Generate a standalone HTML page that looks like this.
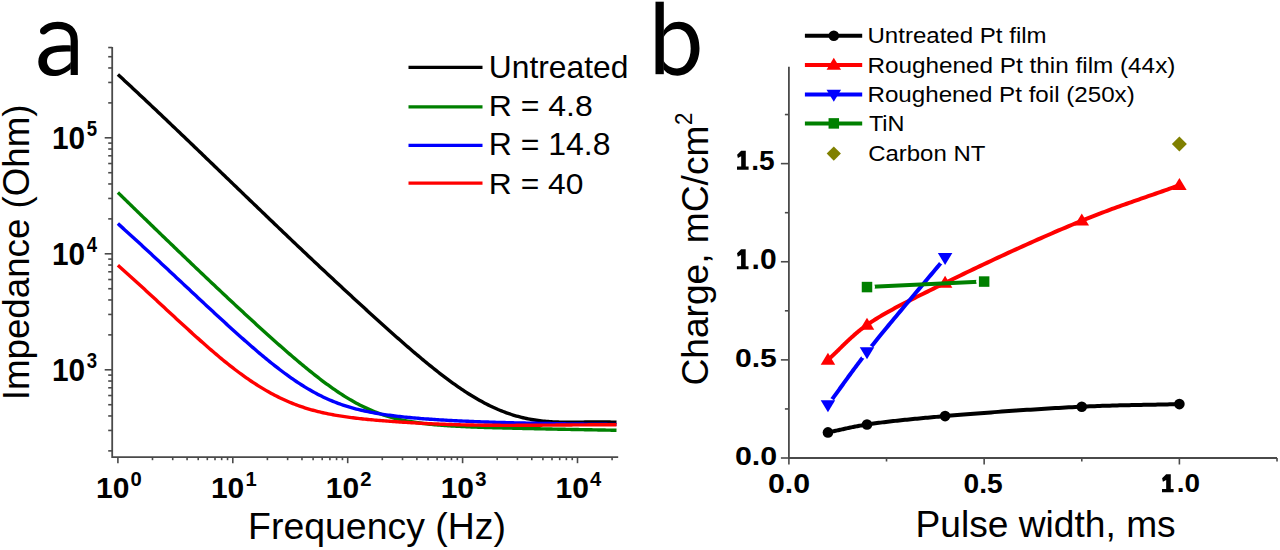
<!DOCTYPE html>
<html><head><meta charset="utf-8"><style>
html,body{margin:0;padding:0;background:#fff;width:1280px;height:550px;overflow:hidden}
svg{display:block;font-family:"Liberation Sans",sans-serif}
</style></head><body>
<svg width="1280" height="550" viewBox="0 0 1280 550">
<defs><mask id="m_black" maskUnits="userSpaceOnUse" x="0" y="0" width="1280" height="550"><rect width="1280" height="550" fill="#fff"/><circle cx="827.95" cy="432.41" r="0" fill="#000"/><circle cx="867.00" cy="424.52" r="0" fill="#000"/><circle cx="945.10" cy="416.10" r="0" fill="#000"/><circle cx="1081.78" cy="406.70" r="0" fill="#000"/><circle cx="1179.40" cy="404.09" r="0" fill="#000"/></mask><mask id="m_red" maskUnits="userSpaceOnUse" x="0" y="0" width="1280" height="550"><rect width="1280" height="550" fill="#fff"/><circle cx="827.95" cy="359.88" r="0" fill="#000"/><circle cx="867.00" cy="324.94" r="0" fill="#000"/><circle cx="945.10" cy="282.94" r="0" fill="#000"/><circle cx="1081.78" cy="220.73" r="0" fill="#000"/><circle cx="1179.40" cy="185.21" r="0" fill="#000"/></mask><mask id="m_blue" maskUnits="userSpaceOnUse" x="0" y="0" width="1280" height="550"><rect width="1280" height="550" fill="#fff"/><circle cx="827.95" cy="405.01" r="7.3" fill="#000"/><circle cx="867.00" cy="352.02" r="7.3" fill="#000"/><circle cx="945.10" cy="257.82" r="7.3" fill="#000"/></mask><mask id="m_green" maskUnits="userSpaceOnUse" x="0" y="0" width="1280" height="550"><rect width="1280" height="550" fill="#fff"/><circle cx="867.00" cy="287.07" r="8" fill="#000"/><circle cx="984.15" cy="281.57" r="8" fill="#000"/></mask></defs>
<path d="M112.2,46.9 V457.2 H618.2" fill="none" stroke="#4a4a4a" stroke-width="1.8"/>
<line x1="108.20" y1="450.88" x2="112.2" y2="450.88" stroke="#4a4a4a" stroke-width="1.6"/>
<line x1="108.20" y1="430.45" x2="112.2" y2="430.45" stroke="#4a4a4a" stroke-width="1.6"/>
<line x1="108.20" y1="415.96" x2="112.2" y2="415.96" stroke="#4a4a4a" stroke-width="1.6"/>
<line x1="108.20" y1="404.72" x2="112.2" y2="404.72" stroke="#4a4a4a" stroke-width="1.6"/>
<line x1="108.20" y1="395.53" x2="112.2" y2="395.53" stroke="#4a4a4a" stroke-width="1.6"/>
<line x1="108.20" y1="387.77" x2="112.2" y2="387.77" stroke="#4a4a4a" stroke-width="1.6"/>
<line x1="108.20" y1="381.04" x2="112.2" y2="381.04" stroke="#4a4a4a" stroke-width="1.6"/>
<line x1="108.20" y1="375.11" x2="112.2" y2="375.11" stroke="#4a4a4a" stroke-width="1.6"/>
<line x1="104.70" y1="369.80" x2="112.2" y2="369.80" stroke="#4a4a4a" stroke-width="1.6"/>
<line x1="108.20" y1="334.88" x2="112.2" y2="334.88" stroke="#4a4a4a" stroke-width="1.6"/>
<line x1="108.20" y1="314.45" x2="112.2" y2="314.45" stroke="#4a4a4a" stroke-width="1.6"/>
<line x1="108.20" y1="299.96" x2="112.2" y2="299.96" stroke="#4a4a4a" stroke-width="1.6"/>
<line x1="108.20" y1="288.72" x2="112.2" y2="288.72" stroke="#4a4a4a" stroke-width="1.6"/>
<line x1="108.20" y1="279.53" x2="112.2" y2="279.53" stroke="#4a4a4a" stroke-width="1.6"/>
<line x1="108.20" y1="271.77" x2="112.2" y2="271.77" stroke="#4a4a4a" stroke-width="1.6"/>
<line x1="108.20" y1="265.04" x2="112.2" y2="265.04" stroke="#4a4a4a" stroke-width="1.6"/>
<line x1="108.20" y1="259.11" x2="112.2" y2="259.11" stroke="#4a4a4a" stroke-width="1.6"/>
<line x1="104.70" y1="253.80" x2="112.2" y2="253.80" stroke="#4a4a4a" stroke-width="1.6"/>
<line x1="108.20" y1="218.88" x2="112.2" y2="218.88" stroke="#4a4a4a" stroke-width="1.6"/>
<line x1="108.20" y1="198.45" x2="112.2" y2="198.45" stroke="#4a4a4a" stroke-width="1.6"/>
<line x1="108.20" y1="183.96" x2="112.2" y2="183.96" stroke="#4a4a4a" stroke-width="1.6"/>
<line x1="108.20" y1="172.72" x2="112.2" y2="172.72" stroke="#4a4a4a" stroke-width="1.6"/>
<line x1="108.20" y1="163.53" x2="112.2" y2="163.53" stroke="#4a4a4a" stroke-width="1.6"/>
<line x1="108.20" y1="155.77" x2="112.2" y2="155.77" stroke="#4a4a4a" stroke-width="1.6"/>
<line x1="108.20" y1="149.04" x2="112.2" y2="149.04" stroke="#4a4a4a" stroke-width="1.6"/>
<line x1="108.20" y1="143.11" x2="112.2" y2="143.11" stroke="#4a4a4a" stroke-width="1.6"/>
<line x1="104.70" y1="137.80" x2="112.2" y2="137.80" stroke="#4a4a4a" stroke-width="1.6"/>
<line x1="108.20" y1="102.88" x2="112.2" y2="102.88" stroke="#4a4a4a" stroke-width="1.6"/>
<line x1="108.20" y1="82.45" x2="112.2" y2="82.45" stroke="#4a4a4a" stroke-width="1.6"/>
<line x1="108.20" y1="67.96" x2="112.2" y2="67.96" stroke="#4a4a4a" stroke-width="1.6"/>
<line x1="108.20" y1="56.72" x2="112.2" y2="56.72" stroke="#4a4a4a" stroke-width="1.6"/>
<line x1="108.20" y1="47.53" x2="112.2" y2="47.53" stroke="#4a4a4a" stroke-width="1.6"/>
<line x1="117.90" y1="457.2" x2="117.90" y2="463.20" stroke="#4a4a4a" stroke-width="1.6"/>
<line x1="152.49" y1="457.2" x2="152.49" y2="460.20" stroke="#4a4a4a" stroke-width="1.6"/>
<line x1="172.72" y1="457.2" x2="172.72" y2="460.20" stroke="#4a4a4a" stroke-width="1.6"/>
<line x1="187.08" y1="457.2" x2="187.08" y2="460.20" stroke="#4a4a4a" stroke-width="1.6"/>
<line x1="198.21" y1="457.2" x2="198.21" y2="460.20" stroke="#4a4a4a" stroke-width="1.6"/>
<line x1="207.31" y1="457.2" x2="207.31" y2="460.20" stroke="#4a4a4a" stroke-width="1.6"/>
<line x1="215.00" y1="457.2" x2="215.00" y2="460.20" stroke="#4a4a4a" stroke-width="1.6"/>
<line x1="221.67" y1="457.2" x2="221.67" y2="460.20" stroke="#4a4a4a" stroke-width="1.6"/>
<line x1="227.54" y1="457.2" x2="227.54" y2="460.20" stroke="#4a4a4a" stroke-width="1.6"/>
<line x1="232.80" y1="457.2" x2="232.80" y2="463.20" stroke="#4a4a4a" stroke-width="1.6"/>
<line x1="267.39" y1="457.2" x2="267.39" y2="460.20" stroke="#4a4a4a" stroke-width="1.6"/>
<line x1="287.62" y1="457.2" x2="287.62" y2="460.20" stroke="#4a4a4a" stroke-width="1.6"/>
<line x1="301.98" y1="457.2" x2="301.98" y2="460.20" stroke="#4a4a4a" stroke-width="1.6"/>
<line x1="313.11" y1="457.2" x2="313.11" y2="460.20" stroke="#4a4a4a" stroke-width="1.6"/>
<line x1="322.21" y1="457.2" x2="322.21" y2="460.20" stroke="#4a4a4a" stroke-width="1.6"/>
<line x1="329.90" y1="457.2" x2="329.90" y2="460.20" stroke="#4a4a4a" stroke-width="1.6"/>
<line x1="336.57" y1="457.2" x2="336.57" y2="460.20" stroke="#4a4a4a" stroke-width="1.6"/>
<line x1="342.44" y1="457.2" x2="342.44" y2="460.20" stroke="#4a4a4a" stroke-width="1.6"/>
<line x1="347.70" y1="457.2" x2="347.70" y2="463.20" stroke="#4a4a4a" stroke-width="1.6"/>
<line x1="382.29" y1="457.2" x2="382.29" y2="460.20" stroke="#4a4a4a" stroke-width="1.6"/>
<line x1="402.52" y1="457.2" x2="402.52" y2="460.20" stroke="#4a4a4a" stroke-width="1.6"/>
<line x1="416.88" y1="457.2" x2="416.88" y2="460.20" stroke="#4a4a4a" stroke-width="1.6"/>
<line x1="428.01" y1="457.2" x2="428.01" y2="460.20" stroke="#4a4a4a" stroke-width="1.6"/>
<line x1="437.11" y1="457.2" x2="437.11" y2="460.20" stroke="#4a4a4a" stroke-width="1.6"/>
<line x1="444.80" y1="457.2" x2="444.80" y2="460.20" stroke="#4a4a4a" stroke-width="1.6"/>
<line x1="451.47" y1="457.2" x2="451.47" y2="460.20" stroke="#4a4a4a" stroke-width="1.6"/>
<line x1="457.34" y1="457.2" x2="457.34" y2="460.20" stroke="#4a4a4a" stroke-width="1.6"/>
<line x1="462.60" y1="457.2" x2="462.60" y2="463.20" stroke="#4a4a4a" stroke-width="1.6"/>
<line x1="497.19" y1="457.2" x2="497.19" y2="460.20" stroke="#4a4a4a" stroke-width="1.6"/>
<line x1="517.42" y1="457.2" x2="517.42" y2="460.20" stroke="#4a4a4a" stroke-width="1.6"/>
<line x1="531.78" y1="457.2" x2="531.78" y2="460.20" stroke="#4a4a4a" stroke-width="1.6"/>
<line x1="542.91" y1="457.2" x2="542.91" y2="460.20" stroke="#4a4a4a" stroke-width="1.6"/>
<line x1="552.01" y1="457.2" x2="552.01" y2="460.20" stroke="#4a4a4a" stroke-width="1.6"/>
<line x1="559.70" y1="457.2" x2="559.70" y2="460.20" stroke="#4a4a4a" stroke-width="1.6"/>
<line x1="566.37" y1="457.2" x2="566.37" y2="460.20" stroke="#4a4a4a" stroke-width="1.6"/>
<line x1="572.24" y1="457.2" x2="572.24" y2="460.20" stroke="#4a4a4a" stroke-width="1.6"/>
<line x1="577.50" y1="457.2" x2="577.50" y2="463.20" stroke="#4a4a4a" stroke-width="1.6"/>
<line x1="612.09" y1="457.2" x2="612.09" y2="460.20" stroke="#4a4a4a" stroke-width="1.6"/>
<polyline points="117.90,74.47 119.57,76.02 121.24,77.56 122.90,79.10 124.57,80.65 126.24,82.20 127.91,83.75 129.57,85.30 131.24,86.86 132.91,88.41 134.58,89.97 136.24,91.53 137.91,93.09 139.58,94.65 141.25,96.22 142.91,97.78 144.58,99.35 146.25,100.92 147.92,102.49 149.58,104.06 151.25,105.64 152.92,107.21 154.59,108.79 156.25,110.36 157.92,111.94 159.59,113.52 161.26,115.10 162.92,116.69 164.59,118.27 166.26,119.85 167.93,121.44 169.59,123.03 171.26,124.61 172.93,126.20 174.60,127.79 176.26,129.38 177.93,130.98 179.60,132.57 181.27,134.16 182.93,135.76 184.60,137.35 186.27,138.95 187.94,140.55 189.61,142.14 191.27,143.74 192.94,145.34 194.61,146.94 196.28,148.54 197.94,150.14 199.61,151.75 201.28,153.35 202.95,154.95 204.61,156.55 206.28,158.16 207.95,159.76 209.62,161.37 211.28,162.97 212.95,164.58 214.62,166.18 216.29,167.79 217.95,169.39 219.62,171.00 221.29,172.61 222.96,174.21 224.62,175.82 226.29,177.43 227.96,179.03 229.63,180.64 231.29,182.25 232.96,183.86 234.63,185.46 236.30,187.07 237.96,188.68 239.63,190.28 241.30,191.89 242.97,193.50 244.63,195.10 246.30,196.71 247.97,198.31 249.64,199.92 251.30,201.53 252.97,203.13 254.64,204.73 256.31,206.34 257.97,207.94 259.64,209.54 261.31,211.15 262.98,212.75 264.65,214.35 266.31,215.95 267.98,217.55 269.65,219.15 271.32,220.75 272.98,222.34 274.65,223.94 276.32,225.54 277.99,227.13 279.65,228.73 281.32,230.32 282.99,231.91 284.66,233.50 286.32,235.09 287.99,236.68 289.66,238.27 291.33,239.86 292.99,241.44 294.66,243.03 296.33,244.61 298.00,246.19 299.66,247.77 301.33,249.35 303.00,250.93 304.67,252.51 306.33,254.08 308.00,255.66 309.67,257.23 311.34,258.80 313.00,260.37 314.67,261.94 316.34,263.51 318.01,265.07 319.67,266.64 321.34,268.20 323.01,269.76 324.68,271.32 326.34,272.88 328.01,274.44 329.68,276.00 331.35,277.55 333.02,279.11 334.68,280.66 336.35,282.21 338.02,283.76 339.69,285.31 341.35,286.86 343.02,288.40 344.69,289.95 346.36,291.49 348.02,293.03 349.69,294.57 351.36,296.11 353.03,297.65 354.69,299.18 356.36,300.72 358.03,302.25 359.70,303.78 361.36,305.31 363.03,306.83 364.70,308.36 366.37,309.88 368.03,311.40 369.70,312.92 371.37,314.44 373.04,315.96 374.70,317.47 376.37,318.98 378.04,320.49 379.71,321.99 381.37,323.50 383.04,325.00 384.71,326.50 386.38,327.99 388.04,329.48 389.71,330.97 391.38,332.46 393.05,333.94 394.71,335.42 396.38,336.90 398.05,338.37 399.72,339.84 401.38,341.30 403.05,342.76 404.72,344.22 406.39,345.67 408.06,347.11 409.72,348.55 411.39,349.99 413.06,351.42 414.73,352.84 416.39,354.26 418.06,355.67 419.73,357.07 421.40,358.47 423.06,359.86 424.73,361.24 426.40,362.61 428.07,363.98 429.73,365.34 431.40,366.69 433.07,368.03 434.74,369.36 436.40,370.68 438.07,371.99 439.74,373.29 441.41,374.58 443.07,375.86 444.74,377.13 446.41,378.39 448.08,379.63 449.74,380.86 451.41,382.08 453.08,383.28 454.75,384.47 456.41,385.65 458.08,386.81 459.75,387.96 461.42,389.09 463.08,390.21 464.75,391.31 466.42,392.39 468.09,393.46 469.75,394.51 471.42,395.54 473.09,396.55 474.76,397.55 476.43,398.53 478.09,399.49 479.76,400.44 481.43,401.36 483.10,402.27 484.76,403.15 486.43,404.02 488.10,404.87 489.77,405.69 491.43,406.50 493.10,407.28 494.77,408.04 496.44,408.78 498.10,409.51 499.77,410.20 501.44,410.88 503.11,411.54 504.77,412.17 506.44,412.78 508.11,413.37 509.78,413.94 511.44,414.49 513.11,415.02 514.78,415.53 516.45,416.01 518.11,416.48 519.78,416.92 521.45,417.35 523.12,417.75 524.78,418.14 526.45,418.50 528.12,418.85 529.79,419.17 531.45,419.48 533.12,419.77 534.79,420.04 536.46,420.29 538.12,420.52 539.79,420.74 541.46,420.94 543.13,421.12 544.79,421.28 546.46,421.42 548.13,421.55 549.80,421.67 551.47,421.77 553.13,421.86 554.80,421.94 556.47,422.01 558.14,422.06 559.80,422.11 561.47,422.14 563.14,422.17 564.81,422.19 566.47,422.20 568.14,422.21 569.81,422.21 571.48,422.21 573.14,422.20 574.81,422.18 576.48,422.17 578.15,422.15 579.81,422.13 581.48,422.11 583.15,422.09 584.82,422.06 586.48,422.04 588.15,422.02 589.82,422.00 591.49,421.98 593.15,421.96 594.82,421.95 596.49,421.94 598.16,421.94 599.82,421.94 601.49,421.94 603.16,421.95 604.83,421.97 606.49,421.99 608.16,422.02 609.83,422.06 611.50,422.11 613.16,422.17 614.83,422.23 616.50,422.30" fill="none" stroke="#000" stroke-width="3.4" stroke-linejoin="round"/>
<polyline points="117.90,192.48 119.57,194.11 121.24,195.74 122.90,197.37 124.57,199.00 126.24,200.62 127.91,202.25 129.57,203.87 131.24,205.50 132.91,207.12 134.58,208.75 136.24,210.37 137.91,211.99 139.58,213.61 141.25,215.23 142.91,216.85 144.58,218.47 146.25,220.09 147.92,221.70 149.58,223.32 151.25,224.93 152.92,226.55 154.59,228.16 156.25,229.77 157.92,231.39 159.59,233.00 161.26,234.61 162.92,236.22 164.59,237.82 166.26,239.43 167.93,241.04 169.59,242.64 171.26,244.25 172.93,245.85 174.60,247.45 176.26,249.06 177.93,250.66 179.60,252.26 181.27,253.85 182.93,255.45 184.60,257.05 186.27,258.64 187.94,260.24 189.61,261.83 191.27,263.42 192.94,265.02 194.61,266.61 196.28,268.20 197.94,269.78 199.61,271.37 201.28,272.96 202.95,274.54 204.61,276.12 206.28,277.70 207.95,279.28 209.62,280.86 211.28,282.44 212.95,284.02 214.62,285.59 216.29,287.17 217.95,288.74 219.62,290.31 221.29,291.88 222.96,293.45 224.62,295.01 226.29,296.58 227.96,298.14 229.63,299.70 231.29,301.26 232.96,302.81 234.63,304.37 236.30,305.92 237.96,307.47 239.63,309.02 241.30,310.57 242.97,312.12 244.63,313.66 246.30,315.20 247.97,316.74 249.64,318.27 251.30,319.80 252.97,321.33 254.64,322.86 256.31,324.39 257.97,325.91 259.64,327.43 261.31,328.94 262.98,330.45 264.65,331.96 266.31,333.47 267.98,334.97 269.65,336.47 271.32,337.96 272.98,339.45 274.65,340.94 276.32,342.42 277.99,343.90 279.65,345.37 281.32,346.84 282.99,348.30 284.66,349.76 286.32,351.21 287.99,352.66 289.66,354.10 291.33,355.54 292.99,356.97 294.66,358.39 296.33,359.81 298.00,361.22 299.66,362.62 301.33,364.01 303.00,365.40 304.67,366.78 306.33,368.15 308.00,369.51 309.67,370.86 311.34,372.20 313.00,373.53 314.67,374.86 316.34,376.17 318.01,377.46 319.67,378.75 321.34,380.03 323.01,381.29 324.68,382.54 326.34,383.77 328.01,384.99 329.68,386.20 331.35,387.39 333.02,388.56 334.68,389.72 336.35,390.87 338.02,391.99 339.69,393.10 341.35,394.19 343.02,395.27 344.69,396.32 346.36,397.36 348.02,398.37 349.69,399.37 351.36,400.34 353.03,401.30 354.69,402.23 356.36,403.14 358.03,404.03 359.70,404.90 361.36,405.75 363.03,406.58 364.70,407.38 366.37,408.16 368.03,408.92 369.70,409.66 371.37,410.38 373.04,411.07 374.70,411.75 376.37,412.40 378.04,413.03 379.71,413.64 381.37,414.23 383.04,414.80 384.71,415.34 386.38,415.87 388.04,416.38 389.71,416.87 391.38,417.35 393.05,417.80 394.71,418.24 396.38,418.66 398.05,419.06 399.72,419.45 401.38,419.82 403.05,420.17 404.72,420.51 406.39,420.84 408.06,421.16 409.72,421.46 411.39,421.74 413.06,422.02 414.73,422.28 416.39,422.54 418.06,422.78 419.73,423.01 421.40,423.23 423.06,423.44 424.73,423.65 426.40,423.84 428.07,424.03 429.73,424.20 431.40,424.38 433.07,424.54 434.74,424.70 436.40,424.85 438.07,424.99 439.74,425.13 441.41,425.26 443.07,425.39 444.74,425.51 446.41,425.63 448.08,425.74 449.74,425.85 451.41,425.95 453.08,426.05 454.75,426.15 456.41,426.24 458.08,426.33 459.75,426.42 461.42,426.50 463.08,426.58 464.75,426.66 466.42,426.73 468.09,426.81 469.75,426.88 471.42,426.94 473.09,427.01 474.76,427.08 476.43,427.14 478.09,427.20 479.76,427.26 481.43,427.32 483.10,427.37 484.76,427.43 486.43,427.48 488.10,427.53 489.77,427.59 491.43,427.64 493.10,427.69 494.77,427.73 496.44,427.78 498.10,427.83 499.77,427.87 501.44,427.92 503.11,427.96 504.77,428.01 506.44,428.05 508.11,428.09 509.78,428.13 511.44,428.17 513.11,428.21 514.78,428.25 516.45,428.29 518.11,428.33 519.78,428.37 521.45,428.41 523.12,428.45 524.78,428.48 526.45,428.52 528.12,428.56 529.79,428.59 531.45,428.63 533.12,428.67 534.79,428.70 536.46,428.74 538.12,428.77 539.79,428.81 541.46,428.84 543.13,428.88 544.79,428.91 546.46,428.95 548.13,428.98 549.80,429.01 551.47,429.05 553.13,429.08 554.80,429.12 556.47,429.15 558.14,429.18 559.80,429.22 561.47,429.25 563.14,429.28 564.81,429.31 566.47,429.35 568.14,429.38 569.81,429.41 571.48,429.44 573.14,429.48 574.81,429.51 576.48,429.54 578.15,429.57 579.81,429.60 581.48,429.63 583.15,429.67 584.82,429.70 586.48,429.73 588.15,429.76 589.82,429.79 591.49,429.82 593.15,429.85 594.82,429.88 596.49,429.91 598.16,429.94 599.82,429.97 601.49,430.00 603.16,430.04 604.83,430.07 606.49,430.10 608.16,430.12 609.83,430.15 611.50,430.18 613.16,430.21 614.83,430.24 616.50,430.27" fill="none" stroke="#008000" stroke-width="3.4" stroke-linejoin="round"/>
<polyline points="117.90,223.61 119.57,225.12 121.24,226.62 122.90,228.13 124.57,229.64 126.24,231.15 127.91,232.66 129.57,234.18 131.24,235.70 132.91,237.22 134.58,238.74 136.24,240.27 137.91,241.80 139.58,243.33 141.25,244.86 142.91,246.40 144.58,247.93 146.25,249.47 147.92,251.01 149.58,252.55 151.25,254.10 152.92,255.64 154.59,257.19 156.25,258.73 157.92,260.28 159.59,261.83 161.26,263.39 162.92,264.94 164.59,266.49 166.26,268.05 167.93,269.60 169.59,271.16 171.26,272.71 172.93,274.27 174.60,275.83 176.26,277.39 177.93,278.95 179.60,280.51 181.27,282.06 182.93,283.62 184.60,285.18 186.27,286.74 187.94,288.30 189.61,289.86 191.27,291.42 192.94,292.98 194.61,294.54 196.28,296.09 197.94,297.65 199.61,299.21 201.28,300.76 202.95,302.31 204.61,303.87 206.28,305.42 207.95,306.97 209.62,308.51 211.28,310.06 212.95,311.60 214.62,313.15 216.29,314.69 217.95,316.22 219.62,317.76 221.29,319.29 222.96,320.82 224.62,322.35 226.29,323.87 227.96,325.39 229.63,326.91 231.29,328.42 232.96,329.93 234.63,331.43 236.30,332.94 237.96,334.43 239.63,335.92 241.30,337.41 242.97,338.89 244.63,340.36 246.30,341.83 247.97,343.30 249.64,344.75 251.30,346.20 252.97,347.65 254.64,349.08 256.31,350.51 257.97,351.93 259.64,353.34 261.31,354.75 262.98,356.14 264.65,357.53 266.31,358.90 267.98,360.26 269.65,361.62 271.32,362.96 272.98,364.29 274.65,365.61 276.32,366.92 277.99,368.21 279.65,369.49 281.32,370.76 282.99,372.01 284.66,373.25 286.32,374.47 287.99,375.68 289.66,376.87 291.33,378.04 292.99,379.20 294.66,380.35 296.33,381.47 298.00,382.58 299.66,383.67 301.33,384.74 303.00,385.80 304.67,386.83 306.33,387.85 308.00,388.84 309.67,389.82 311.34,390.78 313.00,391.72 314.67,392.63 316.34,393.53 318.01,394.41 319.67,395.26 321.34,396.10 323.01,396.91 324.68,397.71 326.34,398.48 328.01,399.23 329.68,399.96 331.35,400.67 333.02,401.36 334.68,402.03 336.35,402.68 338.02,403.31 339.69,403.92 341.35,404.51 343.02,405.09 344.69,405.64 346.36,406.17 348.02,406.69 349.69,407.19 351.36,407.68 353.03,408.14 354.69,408.59 356.36,409.03 358.03,409.45 359.70,409.86 361.36,410.25 363.03,410.63 364.70,411.00 366.37,411.35 368.03,411.70 369.70,412.03 371.37,412.35 373.04,412.66 374.70,412.96 376.37,413.26 378.04,413.54 379.71,413.82 381.37,414.08 383.04,414.34 384.71,414.59 386.38,414.83 388.04,415.07 389.71,415.30 391.38,415.52 393.05,415.74 394.71,415.94 396.38,416.15 398.05,416.34 399.72,416.53 401.38,416.72 403.05,416.90 404.72,417.07 406.39,417.24 408.06,417.40 409.72,417.56 411.39,417.72 413.06,417.87 414.73,418.02 416.39,418.16 418.06,418.30 419.73,418.44 421.40,418.57 423.06,418.70 424.73,418.83 426.40,418.95 428.07,419.07 429.73,419.19 431.40,419.31 433.07,419.42 434.74,419.53 436.40,419.64 438.07,419.75 439.74,419.85 441.41,419.95 443.07,420.05 444.74,420.15 446.41,420.24 448.08,420.34 449.74,420.43 451.41,420.52 453.08,420.60 454.75,420.69 456.41,420.77 458.08,420.85 459.75,420.93 461.42,421.01 463.08,421.09 464.75,421.16 466.42,421.24 468.09,421.31 469.75,421.38 471.42,421.45 473.09,421.51 474.76,421.58 476.43,421.65 478.09,421.71 479.76,421.77 481.43,421.83 483.10,421.89 484.76,421.95 486.43,422.01 488.10,422.06 489.77,422.12 491.43,422.17 493.10,422.23 494.77,422.28 496.44,422.33 498.10,422.38 499.77,422.43 501.44,422.48 503.11,422.53 504.77,422.57 506.44,422.62 508.11,422.66 509.78,422.71 511.44,422.75 513.11,422.79 514.78,422.84 516.45,422.88 518.11,422.92 519.78,422.96 521.45,423.00 523.12,423.04 524.78,423.07 526.45,423.11 528.12,423.15 529.79,423.18 531.45,423.22 533.12,423.26 534.79,423.29 536.46,423.32 538.12,423.36 539.79,423.39 541.46,423.42 543.13,423.45 544.79,423.48 546.46,423.51 548.13,423.54 549.80,423.57 551.47,423.60 553.13,423.63 554.80,423.66 556.47,423.69 558.14,423.71 559.80,423.74 561.47,423.77 563.14,423.79 564.81,423.82 566.47,423.84 568.14,423.87 569.81,423.89 571.48,423.91 573.14,423.94 574.81,423.96 576.48,423.98 578.15,424.00 579.81,424.02 581.48,424.05 583.15,424.07 584.82,424.09 586.48,424.11 588.15,424.13 589.82,424.15 591.49,424.17 593.15,424.18 594.82,424.20 596.49,424.22 598.16,424.24 599.82,424.26 601.49,424.27 603.16,424.29 604.83,424.31 606.49,424.32 608.16,424.34 609.83,424.35 611.50,424.37 613.16,424.38 614.83,424.40 616.50,424.41" fill="none" stroke="#0000ff" stroke-width="3.4" stroke-linejoin="round"/>
<polyline points="117.90,265.24 119.57,266.72 121.24,268.20 122.90,269.69 124.57,271.18 126.24,272.67 127.91,274.17 129.57,275.67 131.24,277.18 132.91,278.69 134.58,280.20 136.24,281.72 137.91,283.24 139.58,284.76 141.25,286.29 142.91,287.82 144.58,289.35 146.25,290.88 147.92,292.42 149.58,293.96 151.25,295.50 152.92,297.04 154.59,298.58 156.25,300.12 157.92,301.67 159.59,303.21 161.26,304.75 162.92,306.30 164.59,307.84 166.26,309.39 167.93,310.93 169.59,312.48 171.26,314.02 172.93,315.56 174.60,317.10 176.26,318.64 177.93,320.18 179.60,321.72 181.27,323.25 182.93,324.78 184.60,326.31 186.27,327.83 187.94,329.35 189.61,330.87 191.27,332.38 192.94,333.89 194.61,335.40 196.28,336.90 197.94,338.39 199.61,339.88 201.28,341.37 202.95,342.84 204.61,344.31 206.28,345.78 207.95,347.23 209.62,348.68 211.28,350.13 212.95,351.56 214.62,352.98 216.29,354.40 217.95,355.80 219.62,357.20 221.29,358.59 222.96,359.96 224.62,361.32 226.29,362.67 227.96,364.01 229.63,365.34 231.29,366.65 232.96,367.95 234.63,369.24 236.30,370.51 237.96,371.77 239.63,373.01 241.30,374.23 242.97,375.44 244.63,376.64 246.30,377.81 247.97,378.97 249.64,380.12 251.30,381.25 252.97,382.36 254.64,383.45 256.31,384.53 257.97,385.59 259.64,386.63 261.31,387.66 262.98,388.66 264.65,389.65 266.31,390.62 267.98,391.57 269.65,392.50 271.32,393.42 272.98,394.31 274.65,395.19 276.32,396.05 277.99,396.88 279.65,397.70 281.32,398.50 282.99,399.28 284.66,400.05 286.32,400.79 287.99,401.51 289.66,402.22 291.33,402.91 292.99,403.58 294.66,404.23 296.33,404.86 298.00,405.48 299.66,406.08 301.33,406.66 303.00,407.22 304.67,407.77 306.33,408.30 308.00,408.81 309.67,409.30 311.34,409.78 313.00,410.25 314.67,410.70 316.34,411.13 318.01,411.55 319.67,411.96 321.34,412.35 323.01,412.73 324.68,413.10 326.34,413.45 328.01,413.80 329.68,414.13 331.35,414.45 333.02,414.76 334.68,415.06 336.35,415.35 338.02,415.63 339.69,415.90 341.35,416.17 343.02,416.42 344.69,416.67 346.36,416.91 348.02,417.14 349.69,417.37 351.36,417.58 353.03,417.80 354.69,418.00 356.36,418.20 358.03,418.40 359.70,418.59 361.36,418.77 363.03,418.95 364.70,419.12 366.37,419.29 368.03,419.46 369.70,419.62 371.37,419.78 373.04,419.93 374.70,420.08 376.37,420.23 378.04,420.37 379.71,420.51 381.37,420.65 383.04,420.79 384.71,420.92 386.38,421.05 388.04,421.17 389.71,421.30 391.38,421.42 393.05,421.54 394.71,421.65 396.38,421.77 398.05,421.88 399.72,421.99 401.38,422.10 403.05,422.21 404.72,422.31 406.39,422.42 408.06,422.52 409.72,422.62 411.39,422.72 413.06,422.81 414.73,422.91 416.39,423.00 418.06,423.09 419.73,423.18 421.40,423.27 423.06,423.35 424.73,423.44 426.40,423.52 428.07,423.60 429.73,423.68 431.40,423.75 433.07,423.83 434.74,423.90 436.40,423.98 438.07,424.05 439.74,424.11 441.41,424.18 443.07,424.25 444.74,424.31 446.41,424.37 448.08,424.43 449.74,424.49 451.41,424.54 453.08,424.59 454.75,424.64 456.41,424.69 458.08,424.74 459.75,424.78 461.42,424.83 463.08,424.87 464.75,424.91 466.42,424.94 468.09,424.98 469.75,425.01 471.42,425.04 473.09,425.07 474.76,425.10 476.43,425.12 478.09,425.15 479.76,425.17 481.43,425.19 483.10,425.21 484.76,425.23 486.43,425.24 488.10,425.26 489.77,425.27 491.43,425.28 493.10,425.29 494.77,425.30 496.44,425.31 498.10,425.32 499.77,425.32 501.44,425.33 503.11,425.33 504.77,425.33 506.44,425.34 508.11,425.34 509.78,425.33 511.44,425.33 513.11,425.33 514.78,425.33 516.45,425.32 518.11,425.32 519.78,425.31 521.45,425.31 523.12,425.30 524.78,425.29 526.45,425.28 528.12,425.27 529.79,425.27 531.45,425.26 533.12,425.24 534.79,425.23 536.46,425.22 538.12,425.21 539.79,425.20 541.46,425.19 543.13,425.17 544.79,425.16 546.46,425.15 548.13,425.13 549.80,425.12 551.47,425.10 553.13,425.09 554.80,425.08 556.47,425.06 558.14,425.05 559.80,425.03 561.47,425.02 563.14,425.00 564.81,424.99 566.47,424.98 568.14,424.96 569.81,424.95 571.48,424.93 573.14,424.92 574.81,424.91 576.48,424.90 578.15,424.88 579.81,424.87 581.48,424.86 583.15,424.85 584.82,424.84 586.48,424.83 588.15,424.82 589.82,424.81 591.49,424.80 593.15,424.79 594.82,424.78 596.49,424.77 598.16,424.77 599.82,424.76 601.49,424.76 603.16,424.75 604.83,424.75 606.49,424.75 608.16,424.74 609.83,424.74 611.50,424.74 613.16,424.74 614.83,424.75 616.50,424.75" fill="none" stroke="#ff0000" stroke-width="3.4" stroke-linejoin="round"/>
<line x1="408.5" y1="67.3" x2="482.5" y2="67.3" stroke="#000" stroke-width="3.2"/>
<line x1="408.5" y1="106.8" x2="482.5" y2="106.8" stroke="#008000" stroke-width="3.2"/>
<line x1="408.5" y1="145.3" x2="482.5" y2="145.3" stroke="#0000ff" stroke-width="3.2"/>
<line x1="408.5" y1="183.1" x2="482.5" y2="183.1" stroke="#ff0000" stroke-width="3.2"/>
<text transform="translate(488.76,77.60) scale(1.0346,1)" font-size="30.72" font-weight="400" fill="#000" >Untreated</text>
<text transform="translate(488.74,116.30) scale(1.0723,1)" font-size="29.86" font-weight="400" fill="#000" >R = 4.8</text>
<text transform="translate(488.84,155.10) scale(1.0256,1)" font-size="31.16" font-weight="400" fill="#000" >R = 14.8</text>
<text transform="translate(488.86,193.70) scale(1.0546,1)" font-size="30.14" font-weight="400" fill="#000" >R = 40</text>
<text transform="translate(51.91,148.50) scale(0.9703,1)" font-size="30.71" font-weight="700" fill="#000" >10</text>
<text transform="translate(86.64,136.20) scale(0.8790,1)" font-size="21.16" font-weight="700" fill="#000" >5</text>
<text transform="translate(51.91,264.60) scale(0.9703,1)" font-size="30.71" font-weight="700" fill="#000" >10</text>
<text transform="translate(86.64,252.30) scale(0.8790,1)" font-size="21.16" font-weight="700" fill="#000" >4</text>
<text transform="translate(51.91,380.60) scale(0.9703,1)" font-size="30.71" font-weight="700" fill="#000" >10</text>
<text transform="translate(86.64,368.30) scale(0.8790,1)" font-size="21.16" font-weight="700" fill="#000" >3</text>
<text transform="translate(96.00,498.30) scale(0.9906,1)" font-size="30.29" font-weight="700" fill="#000" >10</text>
<text transform="translate(130.49,486.30) scale(0.9691,1)" font-size="20.86" font-weight="700" fill="#000" >0</text>
<text transform="translate(210.90,498.30) scale(0.9906,1)" font-size="30.29" font-weight="700" fill="#000" >10</text>
<text transform="translate(245.39,486.30) scale(0.9691,1)" font-size="20.86" font-weight="700" fill="#000" >1</text>
<text transform="translate(325.80,498.30) scale(0.9906,1)" font-size="30.29" font-weight="700" fill="#000" >10</text>
<text transform="translate(360.29,486.30) scale(0.9691,1)" font-size="20.86" font-weight="700" fill="#000" >2</text>
<text transform="translate(440.70,498.30) scale(0.9906,1)" font-size="30.29" font-weight="700" fill="#000" >10</text>
<text transform="translate(475.19,486.30) scale(0.9691,1)" font-size="20.86" font-weight="700" fill="#000" >3</text>
<text transform="translate(555.60,498.30) scale(0.9906,1)" font-size="30.29" font-weight="700" fill="#000" >10</text>
<text transform="translate(590.09,486.30) scale(0.9691,1)" font-size="20.86" font-weight="700" fill="#000" >4</text>
<text transform="translate(248.11,538.70) scale(0.9970,1)" font-size="37.54" font-weight="400" fill="#000" >Frequency (Hz)</text>
<text transform="translate(28.60,400.31) rotate(-90) scale(1.0059,1)" font-size="36.52" font-weight="400" fill="#000">Impedance (Ohm)</text>
<path transform="translate(0,-0.6)" fill="#000" fill-rule="evenodd" d="M70.8,46 C60,45.6 50,46.5 44.5,50.3 C40.3,53.3 38.3,57.5 38.3,62.3 C38.3,70.5 44.5,76.7 53,76.7 C60,76.7 66,73.5 70.8,69.5 Z M70.8,52.2 C62,51.9 55,52.5 51,54.6 C48.3,56.2 47,58.7 47,61.6 C47,66.8 50.6,70.5 55.8,70.5 C61.5,70.5 67,67.2 70.8,62.5 Z"/>
<path fill="none" stroke="#000" stroke-width="7.2" d="M74.25,74.9 V41 C74.25,30.5 68.5,25.4 57.5,25.4 C51.5,25.4 47,27.2 43.6,30.8"/>
<circle cx="43.4" cy="31.1" r="3.4" fill="#000"/>
<path d="M788.9,66.7 V458.0 H1277.0" fill="none" stroke="#4a4a4a" stroke-width="1.8"/>
<line x1="780.9" y1="458.00" x2="788.9" y2="458.00" stroke="#4a4a4a" stroke-width="1.6"/>
<line x1="784.9" y1="408.94" x2="788.9" y2="408.94" stroke="#4a4a4a" stroke-width="1.6"/>
<line x1="780.9" y1="359.88" x2="788.9" y2="359.88" stroke="#4a4a4a" stroke-width="1.6"/>
<line x1="784.9" y1="310.81" x2="788.9" y2="310.81" stroke="#4a4a4a" stroke-width="1.6"/>
<line x1="780.9" y1="261.75" x2="788.9" y2="261.75" stroke="#4a4a4a" stroke-width="1.6"/>
<line x1="784.9" y1="212.69" x2="788.9" y2="212.69" stroke="#4a4a4a" stroke-width="1.6"/>
<line x1="780.9" y1="163.62" x2="788.9" y2="163.62" stroke="#4a4a4a" stroke-width="1.6"/>
<line x1="784.9" y1="114.56" x2="788.9" y2="114.56" stroke="#4a4a4a" stroke-width="1.6"/>
<line x1="788.90" y1="458.0" x2="788.90" y2="464.5" stroke="#4a4a4a" stroke-width="1.6"/>
<line x1="886.52" y1="458.0" x2="886.52" y2="461.5" stroke="#4a4a4a" stroke-width="1.6"/>
<line x1="984.15" y1="458.0" x2="984.15" y2="464.5" stroke="#4a4a4a" stroke-width="1.6"/>
<line x1="1081.78" y1="458.0" x2="1081.78" y2="461.5" stroke="#4a4a4a" stroke-width="1.6"/>
<line x1="1179.40" y1="458.0" x2="1179.40" y2="464.5" stroke="#4a4a4a" stroke-width="1.6"/>
<line x1="1277.03" y1="458.0" x2="1277.03" y2="461.5" stroke="#4a4a4a" stroke-width="1.6"/>
<polyline mask="url(#m_black)" points="827.95,432.41 828.92,432.21 829.89,432.01 830.84,431.81 831.79,431.61 832.74,431.41 833.68,431.21 834.61,431.01 835.54,430.81 836.47,430.60 837.39,430.40 838.31,430.20 839.23,429.99 840.15,429.79 841.07,429.59 841.99,429.38 842.91,429.18 843.83,428.97 844.75,428.77 845.68,428.57 846.61,428.37 847.55,428.16 848.49,427.96 849.44,427.76 850.39,427.56 851.35,427.36 852.31,427.16 853.29,426.97 854.27,426.77 855.27,426.58 856.27,426.38 857.28,426.19 858.31,426.00 859.35,425.81 860.40,425.62 861.46,425.43 862.54,425.24 863.63,425.06 864.74,424.88 865.86,424.70 867.00,424.52 868.62,424.27 870.27,424.03 871.93,423.79 873.61,423.55 875.31,423.31 877.03,423.08 878.77,422.85 880.53,422.62 882.31,422.39 884.10,422.17 885.91,421.95 887.74,421.73 889.59,421.51 891.45,421.30 893.34,421.09 895.23,420.87 897.15,420.67 899.08,420.46 901.02,420.25 902.98,420.05 904.96,419.84 906.95,419.64 908.96,419.44 910.98,419.24 913.02,419.04 915.06,418.84 917.13,418.64 919.21,418.45 921.30,418.25 923.40,418.05 925.52,417.86 927.64,417.66 929.79,417.47 931.94,417.27 934.10,417.08 936.28,416.88 938.47,416.69 940.67,416.49 942.88,416.30 945.10,416.10 948.07,415.84 951.10,415.58 954.19,415.32 957.32,415.05 960.51,414.79 963.75,414.52 967.03,414.25 970.36,413.99 973.72,413.72 977.12,413.45 980.55,413.19 984.02,412.92 987.51,412.66 991.02,412.39 994.56,412.13 998.12,411.87 1001.69,411.61 1005.28,411.36 1008.87,411.10 1012.48,410.85 1016.09,410.60 1019.70,410.36 1023.31,410.11 1026.92,409.87 1030.52,409.64 1034.11,409.41 1037.68,409.18 1041.25,408.96 1044.79,408.74 1048.32,408.52 1051.82,408.31 1055.29,408.11 1058.73,407.91 1062.15,407.72 1065.52,407.53 1068.86,407.35 1072.16,407.18 1075.41,407.01 1078.62,406.85 1081.78,406.70 1084.41,406.58 1087.02,406.46 1089.62,406.35 1092.20,406.24 1094.76,406.14 1097.30,406.04 1099.83,405.95 1102.34,405.87 1104.84,405.78 1107.33,405.70 1109.80,405.63 1112.26,405.56 1114.71,405.49 1117.15,405.43 1119.58,405.36 1122.00,405.31 1124.41,405.25 1126.81,405.19 1129.21,405.14 1131.60,405.09 1133.99,405.04 1136.37,404.99 1138.75,404.95 1141.13,404.90 1143.51,404.85 1145.88,404.81 1148.25,404.76 1150.63,404.72 1153.00,404.67 1155.38,404.63 1157.75,404.58 1160.14,404.53 1162.52,404.49 1164.91,404.44 1167.31,404.38 1169.71,404.33 1172.12,404.27 1174.54,404.21 1176.96,404.15 1179.40,404.09" fill="none" stroke="#000" stroke-width="4" stroke-linejoin="round"/>
<circle cx="827.95" cy="432.41" r="5.30" fill="#000"/>
<circle cx="867.00" cy="424.52" r="5.30" fill="#000"/>
<circle cx="945.10" cy="416.10" r="5.30" fill="#000"/>
<circle cx="1081.78" cy="406.70" r="5.30" fill="#000"/>
<circle cx="1179.40" cy="404.09" r="5.30" fill="#000"/>
<polyline mask="url(#m_red)" points="827.95,359.88 828.92,359.00 829.88,358.13 830.83,357.25 831.77,356.37 832.71,355.49 833.63,354.61 834.55,353.73 835.47,352.85 836.38,351.97 837.29,351.09 838.19,350.21 839.09,349.32 839.99,348.44 840.89,347.56 841.79,346.67 842.69,345.79 843.60,344.91 844.51,344.03 845.42,343.15 846.34,342.26 847.26,341.38 848.19,340.51 849.12,339.63 850.07,338.75 851.02,337.87 851.98,337.00 852.96,336.13 853.94,335.25 854.94,334.38 855.96,333.51 856.98,332.65 858.02,331.78 859.08,330.92 860.15,330.06 861.25,329.20 862.36,328.34 863.49,327.49 864.64,326.64 865.81,325.79 867.00,324.94 868.58,323.85 870.18,322.76 871.81,321.68 873.45,320.61 875.13,319.54 876.82,318.48 878.53,317.42 880.27,316.37 882.03,315.33 883.81,314.29 885.60,313.25 887.42,312.22 889.26,311.18 891.12,310.16 893.00,309.13 894.89,308.11 896.81,307.08 898.74,306.06 900.69,305.04 902.66,304.02 904.64,302.99 906.64,301.97 908.66,300.95 910.69,299.92 912.74,298.89 914.81,297.86 916.88,296.83 918.98,295.79 921.08,294.75 923.21,293.71 925.34,292.66 927.49,291.61 929.65,290.55 931.82,289.48 934.01,288.41 936.20,287.33 938.41,286.25 940.63,285.15 942.86,284.05 945.10,282.94 948.05,281.48 951.06,280.00 954.13,278.50 957.26,276.97 960.43,275.43 963.66,273.87 966.92,272.30 970.24,270.71 973.59,269.11 976.98,267.49 980.40,265.87 983.85,264.24 987.34,262.60 990.85,260.96 994.38,259.31 997.93,257.65 1001.50,256.00 1005.08,254.35 1008.67,252.69 1012.28,251.04 1015.89,249.40 1019.50,247.76 1023.11,246.12 1026.72,244.50 1030.32,242.88 1033.92,241.27 1037.50,239.68 1041.07,238.10 1044.63,236.54 1048.16,234.99 1051.67,233.46 1055.15,231.95 1058.61,230.46 1062.04,228.99 1065.43,227.55 1068.78,226.13 1072.10,224.74 1075.37,223.37 1078.60,222.04 1081.78,220.73 1084.39,219.67 1086.99,218.63 1089.56,217.60 1092.13,216.58 1094.68,215.59 1097.21,214.61 1099.73,213.64 1102.23,212.69 1104.73,211.75 1107.21,210.82 1109.68,209.90 1112.13,208.99 1114.58,208.10 1117.02,207.21 1119.45,206.33 1121.87,205.46 1124.29,204.60 1126.70,203.75 1129.10,202.90 1131.50,202.05 1133.89,201.21 1136.28,200.38 1138.67,199.54 1141.05,198.71 1143.43,197.89 1145.81,197.06 1148.19,196.23 1150.57,195.40 1152.95,194.58 1155.34,193.75 1157.72,192.92 1160.11,192.08 1162.50,191.24 1164.90,190.40 1167.30,189.55 1169.70,188.70 1172.12,187.84 1174.54,186.97 1176.96,186.10 1179.40,185.21" fill="none" stroke="#ff0000" stroke-width="4" stroke-linejoin="round"/>
<path d="M827.95,352.68 L835.20,364.68 L820.70,364.68Z" fill="#ff0000"/>
<path d="M867.00,317.74 L874.25,329.74 L859.75,329.74Z" fill="#ff0000"/>
<path d="M945.10,275.75 L952.35,287.75 L937.85,287.75Z" fill="#ff0000"/>
<path d="M1081.78,213.53 L1089.03,225.53 L1074.53,225.53Z" fill="#ff0000"/>
<path d="M1179.40,178.01 L1186.65,190.01 L1172.15,190.01Z" fill="#ff0000"/>
<polyline mask="url(#m_blue)" points="827.95,405.01 828.92,403.69 829.88,402.38 830.84,401.07 831.79,399.78 832.73,398.48 833.66,397.19 834.59,395.91 835.51,394.63 836.43,393.36 837.35,392.08 838.27,390.81 839.18,389.55 840.09,388.28 841.00,387.01 841.92,385.74 842.83,384.47 843.75,383.20 844.66,381.93 845.59,380.65 846.51,379.37 847.44,378.09 848.38,376.80 849.32,375.50 850.27,374.20 851.23,372.89 852.19,371.58 853.17,370.25 854.15,368.92 855.15,367.58 856.15,366.23 857.17,364.87 858.20,363.49 859.25,362.11 860.31,360.71 861.38,359.30 862.47,357.88 863.58,356.44 864.70,354.98 865.84,353.51 867.00,352.02 868.61,349.97 870.26,347.89 871.94,345.77 873.65,343.63 875.39,341.46 877.16,339.27 878.96,337.05 880.78,334.81 882.63,332.54 884.51,330.26 886.40,327.95 888.32,325.63 890.26,323.29 892.21,320.93 894.19,318.56 896.18,316.17 898.18,313.77 900.19,311.36 902.22,308.94 904.26,306.51 906.30,304.07 908.36,301.63 910.42,299.18 912.48,296.72 914.55,294.26 916.62,291.80 918.70,289.34 920.77,286.88 922.84,284.42 924.90,281.97 926.96,279.52 929.02,277.07 931.07,274.63 933.11,272.20 935.14,269.77 937.16,267.36 939.17,264.96 941.16,262.57 943.14,260.19 945.10,257.82" fill="none" stroke="#0000ff" stroke-width="4" stroke-linejoin="round"/>
<path d="M827.95,412.21 L835.20,400.21 L820.70,400.21Z" fill="#0000ff"/>
<path d="M867.00,359.22 L874.25,347.22 L859.75,347.22Z" fill="#0000ff"/>
<path d="M945.10,265.02 L952.35,253.02 L937.85,253.02Z" fill="#0000ff"/>
<polyline mask="url(#m_green)" points="867.00,287.07 984.15,281.57" fill="none" stroke="#008000" stroke-width="4" stroke-linejoin="round"/>
<rect x="861.75" y="281.82" width="10.50" height="10.50" fill="#008000"/>
<rect x="978.90" y="276.32" width="10.50" height="10.50" fill="#008000"/>
<path d="M1179.40,136.50 L1186.90,144.00 L1179.40,151.50 L1171.90,144.00Z" fill="#808000"/>
<line x1="804.9" y1="35.7" x2="862.2" y2="35.7" stroke="#000" stroke-width="4"/>
<circle cx="833.80" cy="35.70" r="5.30" fill="#000"/>
<text transform="translate(867.47,43.00) scale(1.0578,1)" font-size="22.75" font-weight="400" fill="#000" >Untreated Pt film</text>
<line x1="804.9" y1="64.9" x2="862.2" y2="64.9" stroke="#ff0000" stroke-width="4"/>
<path d="M833.80,57.70 L841.05,69.70 L826.55,69.70Z" fill="#ff0000"/>
<text transform="translate(867.46,72.80) scale(1.0684,1)" font-size="22.75" font-weight="400" fill="#000" >Roughened Pt thin film (44x)</text>
<line x1="804.9" y1="94.6" x2="862.2" y2="94.6" stroke="#0000ff" stroke-width="4"/>
<path d="M833.80,101.80 L841.05,89.80 L826.55,89.80Z" fill="#0000ff"/>
<text transform="translate(867.47,102.40) scale(1.0828,1)" font-size="22.32" font-weight="400" fill="#000" >Roughened Pt foil (250x)</text>
<line x1="804.9" y1="123.4" x2="862.2" y2="123.4" stroke="#008000" stroke-width="4"/>
<rect x="828.55" y="118.15" width="10.50" height="10.50" fill="#008000"/>
<text transform="translate(868.93,131.00) scale(1.0576,1)" font-size="22.17" font-weight="400" fill="#000" >TiN</text>
<path d="M833.80,146.47 L840.92,153.60 L833.80,160.72 L826.67,153.60Z" fill="#808000"/>
<text transform="translate(868.20,160.80) scale(1.0807,1)" font-size="22.17" font-weight="400" fill="#000" >Carbon NT</text>
<text transform="translate(734.88,465.10) scale(1.1373,1)" font-size="26.71" font-weight="700" fill="#000" >0.0</text>
<text transform="translate(734.89,367.00) scale(1.1287,1)" font-size="26.71" font-weight="700" fill="#000" >0.5</text>
<path fill="#000" d="M741.08,249.30 L745.68,249.30 L745.68,266.20 L748.50,266.20 L748.50,269.30 L736.90,269.30 L736.90,266.20 L741.08,266.20 L741.08,254.90 L737.80,256.70 L737.00,253.30 Z"/>
<text transform="translate(751.60,269.30) scale(1.0500,1)" font-size="28.57" font-weight="700" fill="#000" >.0</text>
<path fill="#000" d="M741.18,150.70 L745.78,150.70 L745.78,166.60 L748.60,166.60 L748.60,169.70 L737.00,169.70 L737.00,166.60 L741.18,166.60 L741.18,156.30 L737.90,158.10 L737.10,154.70 Z"/>
<text transform="translate(751.13,169.70) scale(1.0208,1)" font-size="27.54" font-weight="700" fill="#000" >.5</text>
<text transform="translate(767.99,492.50) scale(1.1344,1)" font-size="26.71" font-weight="700" fill="#000" >0.0</text>
<text transform="translate(963.57,492.90) scale(1.0065,1)" font-size="28.00" font-weight="700" fill="#000" >0.5</text>
<path fill="#000" d="M1166.18,474.30 L1170.78,474.30 L1170.78,489.10 L1173.60,489.10 L1173.60,492.20 L1162.00,492.20 L1162.00,489.10 L1166.18,489.10 L1166.18,479.90 L1162.90,481.70 L1162.10,478.30 Z"/>
<text transform="translate(1176.75,492.20) scale(1.0917,1)" font-size="25.57" font-weight="700" fill="#000" >.0</text>
<text transform="translate(915.53,536.80) scale(0.9937,1)" font-size="37.39" font-weight="400" fill="#000" >Pulse width, ms</text>
<text transform="translate(707.70,385.46) rotate(-90) scale(0.9843,1)" font-size="37.71" font-weight="400" fill="#000">Charge, mC/cm</text>
<text transform="translate(692.20,125.12) rotate(-90) scale(0.9113,1)" font-size="24.57" font-weight="400" fill="#000">2</text>
<rect x="655.5" y="1.7" width="8.3" height="72.5" fill="#000"/>
<path fill="#000" fill-rule="evenodd" d="M663.5,31 C667,25 672,21.8 679,21.8 C692,21.8 699.5,33 699.5,48.3 C699.5,64 690,75.7 677.5,75.7 C671,75.7 666,73 663.5,69 Z M663.5,37.5 C666.5,32 671,29.1 677,29.1 C686,29.1 690.7,37 690.7,48.5 C690.7,60 685,68.4 677,68.4 C671,68.4 666,65 663.5,60.5 Z"/>
</svg></body></html>
